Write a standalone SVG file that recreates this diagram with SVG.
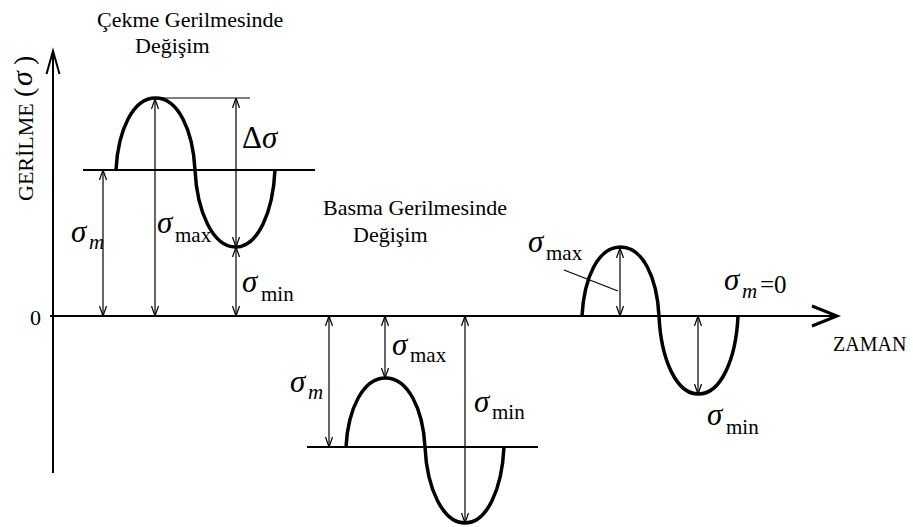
<svg xmlns="http://www.w3.org/2000/svg" width="913" height="527" viewBox="0 0 913 527">
<defs>
<style>
.ax{stroke:#000;stroke-width:2;fill:none}
.ml{stroke:#000;stroke-width:2;fill:none}
.wave{stroke:#000;stroke-width:3.5;fill:none}
.dim{stroke:#000;stroke-width:1.2;fill:none;marker-start:url(#ah);marker-end:url(#ah)}
.thin{stroke:#000;stroke-width:1.2;fill:none}
text{font-family:"Liberation Serif","Times New Roman",serif;fill:#000}
.t{font-size:22px}
.sg{font-size:31px;font-style:italic}
.sub{font-size:21px}
.subi{font-size:21px;font-style:italic}
</style>
<marker id="ah" viewBox="0 0 10 8" refX="10" refY="4" markerWidth="10" markerHeight="8" markerUnits="userSpaceOnUse" orient="auto-start-reverse">
<path d="M0,0.5 L10,4 L0,7.5" fill="none" stroke="#000" stroke-width="1.2"/>
</marker>
</defs>

<g id="axes">
<line class="ax" x1="53" y1="51" x2="53" y2="473"/>
<path class="ax" d="M46.5,74 L53,51 L59.5,74"/>
<line class="ax" x1="50" y1="316" x2="836" y2="316"/>
<path d="M812,306 L837,316 L812,326" fill="none" stroke="#000" stroke-width="3"/>
<text x="30" y="325" style="font-size:22px">0</text>
<g transform="translate(33,201) rotate(-90)">
<text class="t" x="0" y="0">GERİLME</text>
<text x="104" y="0" style="font-size:28px">(</text>
<text x="115" y="-1" style="font-size:30px;font-style:italic">σ</text>
<text x="136" y="0" style="font-size:28px">)</text>
</g>
<text x="833" y="351" style="font-size:20px">ZAMAN</text>
</g>

<g id="tension">
<text class="t" x="97" y="27">Çekme Gerilmesinde</text>
<text class="t" x="135" y="53">Değişim</text>
<line class="ml" x1="83" y1="170" x2="315" y2="170"/>
<line class="thin" x1="155" y1="98" x2="250" y2="98"/>
<path class="wave" d="M116,170 C118,130 133,98 155.5,98 C178,98 193,130 195,170 C197,212 213,247 235.5,247 C258,247 273,212 275,170"/>
<line class="dim" x1="103" y1="170" x2="103" y2="316"/>
<line class="dim" x1="155" y1="99" x2="155" y2="316"/>
<line class="dim" x1="236" y1="98" x2="236" y2="247"/>
<line class="dim" x1="236" y1="247" x2="236" y2="316"/>
<text x="242" y="148" style="font-size:31px">Δ<tspan style="font-style:italic">σ</tspan></text>
<text class="sg" x="71" y="242">σ</text><text class="subi" x="89" y="249">m</text>
<text class="sg" x="157" y="233">σ</text><text class="sub" x="175" y="242">max</text>
<text class="sg" x="242" y="292">σ</text><text class="sub" x="261" y="301">min</text>
</g>

<g id="compression">
<text class="t" x="323" y="215">Basma Gerilmesinde</text>
<text class="t" x="353" y="242">Değişim</text>
<line class="ml" x1="307" y1="447" x2="538" y2="447"/>
<path class="wave" d="M346,447 C348,409 363,378 385.5,378 C408,378 423,409 425,447 C427,489 443,523 465,523 C487,523 502,489 504,447"/>
<line class="dim" x1="329" y1="316" x2="329" y2="447"/>
<line class="dim" x1="385" y1="316" x2="385" y2="378"/>
<line class="dim" x1="465" y1="316" x2="465" y2="523"/>
<text class="sg" x="290" y="392">σ</text><text class="subi" x="308" y="399">m</text>
<text class="sg" x="392" y="355">σ</text><text class="sub" x="410" y="362">max</text>
<text class="sg" x="474" y="412">σ</text><text class="sub" x="492" y="419">min</text>
</g>

<g id="alternating">
<path class="wave" d="M582,316 C584,278 598,247 620.5,247 C643,247 657,278 659,316 C661,359 676,394 698.5,394 C721,394 736,359 738,316"/>
<line class="dim" x1="620" y1="248" x2="620" y2="316"/>
<line class="dim" x1="698" y1="316" x2="698" y2="394"/>
<line class="thin" x1="564" y1="270" x2="618" y2="291"/>
<text class="sg" x="528" y="252">σ</text><text class="sub" x="546" y="260">max</text>
<text class="sg" x="724" y="290">σ</text><text class="subi" x="742" y="298">m</text>
<text x="760" y="293" style="font-size:25px">=0</text>
<text class="sg" x="707" y="425">σ</text><text class="sub" x="726" y="434">min</text>
</g>
</svg>
